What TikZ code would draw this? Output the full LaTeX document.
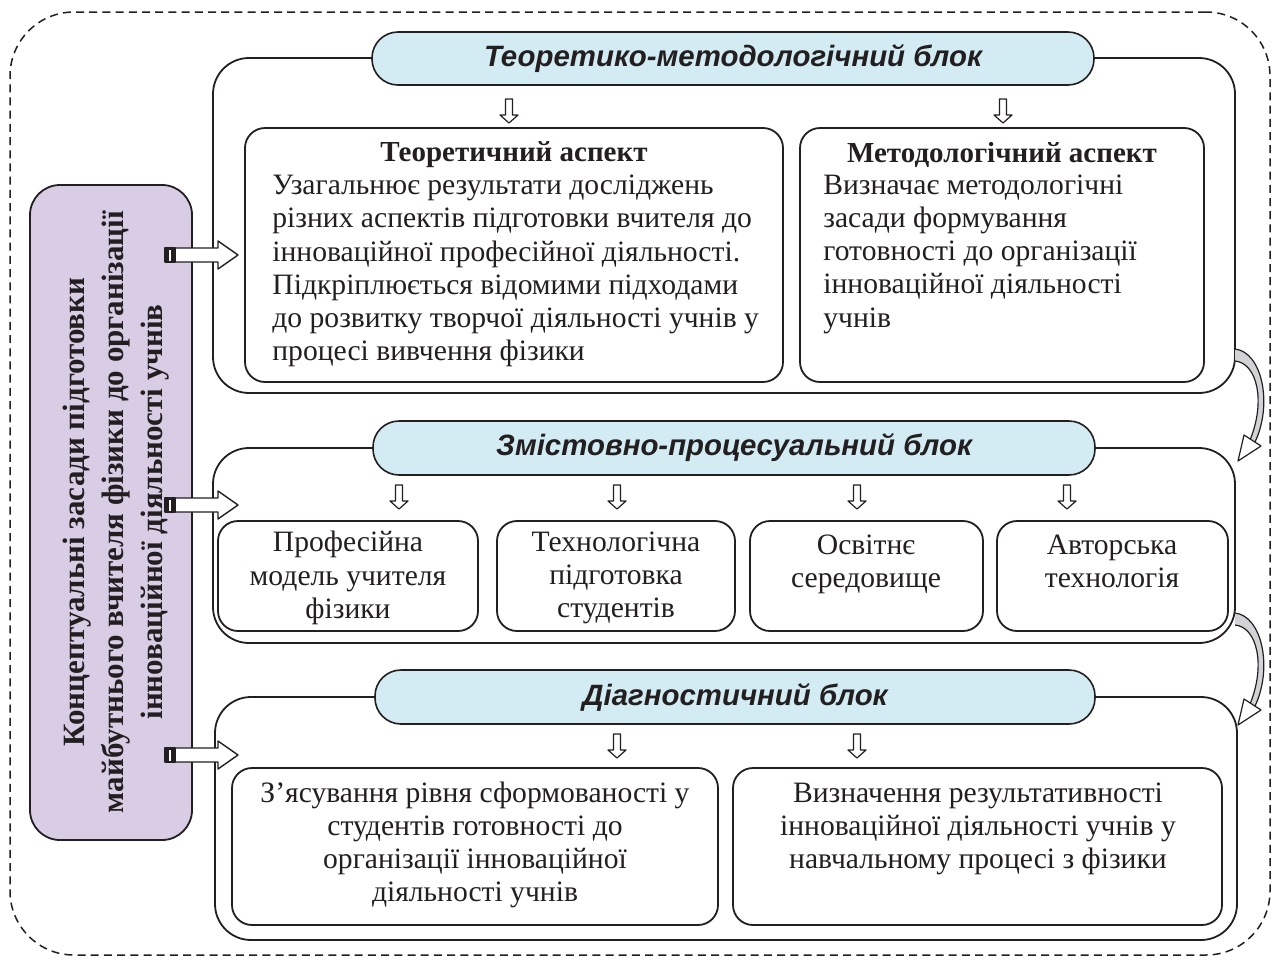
\documentclass[tikz,border=0pt]{standalone}
\usepackage{fontspec}
\setmainfont{Liberation Serif}
\newfontfamily\hdrfont{Liberation Sans}
\definecolor{txt}{HTML}{231F20}
\definecolor{lav}{HTML}{D9CDE5}
\definecolor{pillblue}{HTML}{D3ECF3}
\definecolor{band}{HTML}{D1D3D4}
\tikzset{
 darr/.pic={\draw[draw=txt, line width=0.6pt, fill=white] (-3.5,-12) -- (3.5,-12) -- (3.5,4) -- (9,4) -- (0,12) -- (-9,4) -- (-3.5,4) -- cycle;},
 rarr/.pic={\draw[draw=txt, line width=0.7pt, fill=white] (10,-7) -- (53,-7) -- (53,-14) -- (73,0) -- (53,14) -- (53,7) -- (10,7) -- cycle;
   \draw[draw=txt, line width=0.6pt, fill=txt] (0,-7) rectangle (10,7);
   \fill[white] (4,-5.5) rectangle (6,5.5);},
 carr/.pic={\fill[band] (0,0) .. controls (27,3) and (38,55) .. (20,93) -- (15,91) .. controls (31,52) and (22,14) .. (0,12) -- cycle;
   \draw[txt, line width=0.6pt] (0,0) .. controls (27,3) and (38,55) .. (20,93);
   \draw[txt, line width=0.6pt] (15,91) .. controls (31,52) and (22,14) .. (0,12);
   \draw[txt, line width=0.6pt, fill=white] (26,97) -- (3,112) -- (9,86) -- cycle;}
}
\begin{document}
\begin{tikzpicture}[x=0.5pt,y=-0.5pt, line join=round,
 every node/.style={text=txt},
 blk/.style={draw=txt, line width=0.9pt, rounded corners=18pt, fill=white, inner sep=0pt},
 ibox/.style={draw=txt, line width=0.9pt, rounded corners=10pt, fill=white, inner sep=0pt},
 pill/.style={draw=txt, line width=0.8pt, fill=pillblue, rounded corners=13pt, inner sep=0pt,
   font=\hdrfont\fontsize{14.7}{17}\selectfont\bfseries\itshape},
 body/.style={inner sep=0pt, font=\fontsize{14.8}{16.6}\selectfont},
 ttl/.style={inner sep=0pt, font=\fontsize{14.5}{16.6}\selectfont\bfseries},
]
\useasboundingbox (0,0) rectangle (1275,959);
\node[draw=txt, line width=0.75pt, dash pattern=on 4pt off 2.6pt, rounded corners=32pt,
  minimum width=630pt, minimum height=471.5pt, inner sep=0pt] (frame) at (640,483.5) {};

% concept box
\node[draw=txt, line width=0.9pt, fill=lav, rounded corners=15pt, minimum width=81pt,
  minimum height=327.5pt, inner sep=0pt] (concept) at (111,512.5) {};
\node[rotate=90, align=center, inner sep=0pt, font=\fontsize{15.5}{19.5}\selectfont\bfseries]
  (concepttxt) at (116,512) {Концептуальні засади підготовки\\майбутнього вчителя фізики до організації\\інноваційної діяльності учнів};

% block 1
\node[blk, minimum width=511pt, minimum height=167.5pt] (b1) at (724,225.5) {};
\node[pill, minimum width=361pt, minimum height=26.5pt] (h1) at (733,58.5) {Теоретико-методологічний блок};
\node[ibox, minimum width=269pt, minimum height=127pt] (t1) at (514,255) {};
\node[ibox, minimum width=202pt, minimum height=127pt] (m1) at (1002,255) {};
\node[ttl] (t1t) at (514,155) {Теоретичний аспект};
\node[body, anchor=west, align=left] (t1b) at (272,271) {Узагальнює результати досліджень\\різних аспектів підготовки вчителя до\\інноваційної професійної діяльності.\\Підкріплюється відомими підходами\\до розвитку творчої діяльності учнів у\\процесі вивчення фізики};
\node[ttl] (m1t) at (1002,155) {Методологічний аспект};
\node[body, anchor=west, align=left] (m1b) at (823,254) {Визначає методологічні\\засади формування\\готовності до організації\\інноваційної діяльності\\учнів};

% block 2
\node[blk, minimum width=511pt, minimum height=97.5pt] (b2) at (724,545.5) {};
\node[pill, minimum width=361pt, minimum height=27pt] (h2) at (734,448) {Змістовно-процесуальний блок};
\node[ibox, minimum width=130pt, minimum height=55pt] (p2a) at (348,576) {};
\node[ibox, minimum width=119pt, minimum height=55pt] (p2b) at (616,576) {};
\node[ibox, minimum width=116.5pt, minimum height=55pt] (p2c) at (866.5,576) {};
\node[ibox, minimum width=115.5pt, minimum height=55pt] (p2d) at (1112.5,576) {};
\node[body, align=center] (p2at) at (348,578) {Професійна\\модель учителя\\фізики};
\node[body, align=center] (p2bt) at (616,578) {Технологічна\\підготовка\\студентів};
\node[body, align=center] (p2ct) at (866,564) {Освітнє\\середовище};
\node[body, align=center] (p2dt) at (1112,561) {Авторська\\технологія};

% block 3
\node[blk, minimum width=511pt, minimum height=121.5pt] (b3) at (726,818.5) {};
\node[pill, minimum width=360pt, minimum height=27pt] (h3) at (735,697) {Діагностичний блок};
\node[ibox, minimum width=243pt, minimum height=78.5pt] (d3a) at (475,846.5) {};
\node[ibox, minimum width=244.5pt, minimum height=78.5pt] (d3b) at (977.5,846.5) {};
\node[body, align=center] (d3at) at (475,845) {З’ясування рівня сформованості у\\студентів готовності до\\організації інноваційної\\діяльності учнів};
\node[body, align=center] (d3bt) at (978,829) {Визначення результативності\\інноваційної діяльності учнів у\\навчальному процесі з фізики};

% down arrows
\pic at (509,111) {darr};
\pic at (1003,111) {darr};
\pic at (399,497) {darr};
\pic at (617,497) {darr};
\pic at (857,497) {darr};
\pic at (1067,497) {darr};
\pic at (617,746) {darr};
\pic at (857,746) {darr};

% right arrows from concept box
\pic at (165,255) {rarr};
\pic at (165,505) {rarr};
\pic at (165,755) {rarr};

% curved arrows between blocks
\pic at (1235,349) {carr};
\pic at (1235,613) {carr};
\end{tikzpicture}
\end{document}
